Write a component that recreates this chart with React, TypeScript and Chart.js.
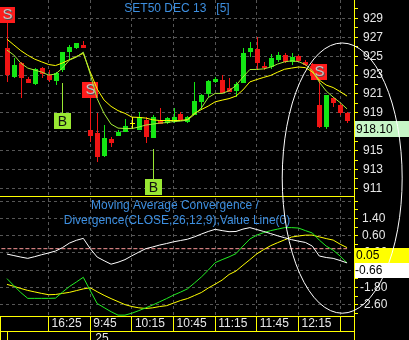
import React, { useEffect, useRef } from 'react';
import { Chart, registerables } from 'chart.js';

Chart.register(...registerables);

// ---- price candles (5-minute bars) ----
const opens = [925.83, 922.82, 924.24, 922.58, 922.05, 923.71, 923.0, 922.4, 923.53, 925.47, 925.83, 926.17, 917.18, 916.83, 914.46, 916.2, 916.55, 917.0, 917.9, 917.18, 918.24, 916.33, 918.16, 917.89, 918.03, 918.87, 918.06, 918.77, 920.17, 920.96, 922.23, 922.47, 921.59, 921.34, 922.12, 925.47, 925.72, 923.95, 923.88, 924.59, 925.12, 924.41, 925.01, 924.41, 923.95, 919.83, 917.53, 920.53, 919.83, 919.01];
const highs = [928.5, 924.77, 924.41, 922.82, 923.74, 923.88, 923.53, 923.35, 925.47, 926.17, 926.42, 926.63, 920.57, 918.95, 917.7, 916.41, 917.18, 918.34, 918.55, 919.12, 918.52, 918.77, 919.48, 918.59, 919.51, 919.12, 918.66, 922.29, 920.96, 922.47, 922.82, 923.0, 922.71, 922.29, 925.83, 926.52, 927.05, 924.41, 925.22, 925.47, 925.36, 925.3, 925.12, 924.59, 924.27, 922.47, 920.88, 920.7, 920.0, 919.12];
const lows = [922.29, 922.65, 920.53, 922.12, 921.94, 922.65, 922.29, 921.94, 923.35, 924.59, 925.72, 925.83, 915.91, 913.76, 914.35, 915.41, 916.5, 917.0, 917.28, 917.18, 915.77, 916.3, 917.81, 917.81, 917.92, 918.24, 917.92, 918.77, 919.3, 920.7, 922.12, 921.06, 921.23, 920.7, 922.12, 924.94, 923.53, 923.53, 923.6, 924.41, 924.24, 924.06, 924.41, 923.95, 922.68, 917.39, 917.29, 919.65, 918.77, 917.92];
const closes = [923.0, 924.06, 922.65, 922.12, 923.6, 923.11, 922.47, 923.18, 925.4, 926.0, 926.35, 925.83, 916.55, 914.35, 916.37, 915.77, 917.0, 917.6, 917.9, 918.59, 916.41, 918.52, 917.81, 918.42, 918.56, 918.24, 918.56, 920.28, 920.88, 922.37, 922.58, 921.13, 921.23, 922.05, 925.3, 925.83, 924.24, 923.71, 924.77, 925.12, 924.41, 924.94, 924.51, 924.06, 922.89, 917.53, 920.88, 920.04, 918.95, 918.1];

// ---- moving averages ----
const maSlow = [926.8, 926.19, 925.59, 925.1, 924.69, 924.4, 924.12, 924.01, 924.28, 924.63, 924.97, 925.3, 923.32, 921.52, 920.35, 919.69, 919.24, 918.95, 918.55, 918.52, 918.45, 918.27, 918.19, 918.19, 918.19, 918.19, 918.29, 918.94, 919.35, 919.72, 920.17, 920.35, 920.51, 920.78, 921.43, 922.28, 922.53, 922.76, 922.97, 923.31, 923.62, 923.74, 923.86, 923.79, 923.33, 922.47, 921.94, 921.68, 921.25, 920.78];
const maFast = [925.65, 925.12, 924.27, 923.74, 923.53, 923.32, 923.0, 923.11, 923.74, 924.59, 924.9, 925.43, 923.1, 920.5, 918.93, 917.81, 917.39, 917.34, 917.34, 917.5, 917.71, 917.81, 917.92, 917.97, 918.08, 918.13, 918.24, 918.82, 919.51, 920.62, 921.06, 921.06, 921.34, 921.9, 922.79, 923.59, 923.6, 923.66, 923.85, 924.17, 924.4, 924.51, 924.43, 924.11, 923.48, 922.26, 921.31, 920.67, 920.09, 919.42];

// ---- MACD panel ----
const macdWhite = [-0.25, -0.32, -0.39, -0.45, -0.37, -0.28, -0.2, -0.11, 0.05, 0.26, 0.39, 0.48, 0.0, -0.39, -0.56, -0.72, -0.63, -0.51, -0.33, -0.16, 0.0, 0.08, 0.17, 0.24, 0.32, 0.38, 0.44, 0.55, 0.68, 0.8, 0.9, 0.84, 0.79, 0.8, 0.91, 0.98, 0.89, 0.8, 0.7, 0.6, 0.51, 0.42, 0.35, 0.29, 0.12, -0.34, -0.41, -0.45, -0.55, -0.66];
const macdGreen = [-1.39, -1.72, -2.04, -2.31, -2.31, -2.31, -2.31, -2.3, -2.02, -1.76, -1.55, -1.33, -1.95, -2.55, -2.74, -2.93, -3.09, -3.09, -3.0, -2.88, -2.75, -2.62, -2.47, -2.32, -2.16, -2.02, -1.87, -1.6, -1.32, -1.0, -0.65, -0.51, -0.38, -0.23, 0.12, 0.45, 0.63, 0.75, 0.84, 0.91, 0.98, 0.98, 0.96, 0.84, 0.73, 0.4, 0.12, -0.07, -0.34, -0.66];
const macdYellow = [-1.66, -1.75, -1.85, -1.94, -2.01, -2.08, -2.14, -2.13, -2.08, -2.03, -1.95, -1.87, -1.82, -2.0, -2.17, -2.32, -2.46, -2.6, -2.69, -2.75, -2.78, -2.75, -2.69, -2.65, -2.53, -2.41, -2.32, -2.18, -2.04, -1.83, -1.65, -1.46, -1.2, -1.04, -0.77, -0.51, -0.24, -0.04, 0.14, 0.28, 0.41, 0.54, 0.59, 0.63, 0.63, 0.55, 0.47, 0.4, 0.21, 0.05];
const zeroLevel = 0;

// ---- signals ----
const sellIdx = [0, 12, 45];
const buyIdx = [8, 21];

// ---- axes ----
const timeTickIdx = [6, 12, 18, 24, 30, 36, 42, 48];
const timeLabels = ['16:25', '9:45', '10:15', '10:45', '11:15', '11:45', '12:15', ''];
const dateSepIdx = [0, 12];
const dateLabelIdx = 12;
const dateLabel = '25';
const priceTicks = [911, 912, 913, 914, 915, 916, 917, 918, 919, 920, 921, 922, 923, 924, 925, 926, 927, 928, 929, 930];
const priceLabelTicks = [911, 913, 915, 917, 919, 921, 923, 925, 927, 929];
const macdTicks = [-3.0, -2.6, -2.2, -1.8, -1.4, -1.0, -0.6, -0.2, 0.2, 0.6, 1.0, 1.4, 1.8, 2.2];
const macdGridTicks = [-2.6, -1.8, -1.0, -0.2, 0.6, 1.4, 2.2];
const macdLabelTicks = [-2.6, -1.8, -1.0, -0.2, 0.6, 1.4];

const mainTitle = 'SET50 DEC 13   [5]';
const macdTitle1 = 'Moving Average Convergence /';
const macdTitle2 = 'Divergence(CLOSE,26,12,9),Value Line(0)';

const FONT = "'Liberation Sans', Arial, sans-serif";
const YELLOW = '#ffff00';
const GRID = '#565656';
const UP = '#14e614';
const DOWN = '#f01414';
const DOJI = '#ffff00';
const LABEL = '#e8e8e8';
const TITLE = '#3d8fe0';
const CLEAR = 'rgba(0,0,0,0)';

const inList = (list: number[], v: number) => list.some((t) => Math.abs(t - v) < 1e-6);
const pts = (arr: number[]) => arr.map((v, i) => ({ x: i, y: v }));

const overlay = {
  id: 'overlay',
  beforeDatasetsDraw(chart: any) {
    const { ctx, scales } = chart;
    const x = scales.x;
    const y = scales.y;
    ctx.save();
    for (let i = 0; i < opens.length; i++) {
      const cx = Math.round(x.getPixelForValue(i));
      const o = y.getPixelForValue(opens[i]);
      const c = y.getPixelForValue(closes[i]);
      const h = Math.round(y.getPixelForValue(highs[i]));
      const l = Math.round(y.getPixelForValue(lows[i]));
      ctx.fillStyle = closes[i] > opens[i] ? UP : closes[i] < opens[i] ? DOWN : DOJI;
      ctx.fillRect(cx, h, 1, Math.max(1, l - h));
      const top = Math.round(Math.min(o, c));
      const bot = Math.round(Math.max(o, c));
      ctx.fillRect(cx - 2, top, 5, Math.max(1, bot - top));
    }
    ctx.textAlign = 'center';
    ctx.textBaseline = 'middle';
    sellIdx.forEach((i) => {
      const cx = Math.round(x.getPixelForValue(i));
      const top = Math.round(y.getPixelForValue(highs[i]));
      ctx.fillStyle = '#ff1c1c';
      ctx.fillRect(cx - 8, top - 16, 16, 16);
      ctx.font = `15px ${FONT}`;
      ctx.fillStyle = '#505050';
      ctx.fillText('S', cx + 1.5, top - 7);
      ctx.fillStyle = '#c4c4c4';
      ctx.fillText('S', cx + 0.5, top - 8);
    });
    buyIdx.forEach((i) => {
      const cx = Math.round(x.getPixelForValue(i));
      const low = Math.round(y.getPixelForValue(lows[i]));
      ctx.fillStyle = '#99e833';
      ctx.fillRect(cx, low + 11, 1, 30);
      ctx.fillRect(cx - 8, low + 41, 17, 16);
      ctx.font = `14px ${FONT}`;
      ctx.fillStyle = '#111111';
      ctx.fillText('B', cx + 0.5, low + 50);
    });
    ctx.restore();
  },
  afterDraw(chart: any) {
    const { ctx, chartArea: ca, scales } = chart;
    const x = scales.x;
    const y = scales.y;
    const y2 = scales.y2;
    const H = chart.height;
    const W = chart.width;
    const axisX = Math.round(y.left);
    const bottom = Math.round(ca.bottom);
    ctx.save();
    ctx.fillStyle = YELLOW;
    ctx.fillRect(ca.left, Math.round(y.bottom), axisX - ca.left, 1);
    ctx.fillRect(axisX, bottom, 1, H - bottom);
    const rowY = bottom + 15;
    ctx.fillRect(ca.left, rowY, axisX - ca.left, 1);
    ctx.fillRect(ca.left, bottom, 1, H - bottom);
    dateSepIdx.forEach((i) => ctx.fillRect(Math.round(x.getPixelForValue(i)), rowY, 1, H - rowY));
    ctx.fillStyle = LABEL;
    ctx.font = `12px ${FONT}`;
    ctx.textAlign = 'left';
    ctx.textBaseline = 'top';
    ctx.fillText(dateLabel, x.getPixelForValue(dateLabelIdx) + 5, rowY + 2);

    // titles
    const cxm = (ca.left + ca.right) / 2;
    ctx.fillStyle = TITLE;
    ctx.textAlign = 'center';
    ctx.textBaseline = 'alphabetic';
    ctx.fillText(mainTitle, cxm, 12);
    ctx.fillText(macdTitle1, cxm - 2, y2.top + 13);
    ctx.fillText(macdTitle2, cxm, y2.top + 28);

    // last value boxes
    const last = closes.length - 1;
    const boxes = [
      { s: y, v: closes[last], bg: '#c6f5c6', h: 16, dx: 2 },
      { s: y2, v: macdYellow[last], bg: YELLOW, h: 15, dx: 2 },
      { s: y2, v: macdWhite[last], bg: '#ffffff', h: 15, dx: 1 },
    ];
    ctx.textAlign = 'left';
    ctx.textBaseline = 'middle';
    boxes.forEach((b) => {
      const top = Math.round(b.s.getPixelForValue(b.v));
      ctx.fillStyle = b.bg;
      ctx.fillRect(axisX + 1, top, W - axisX - 1, b.h);
      ctx.fillStyle = '#000000';
      ctx.fillText(b.v.toFixed(2), axisX + b.dx, top + b.h / 2 + 0.5);
    });

    // hand-drawn annotation ellipse
    const ecx = x.getPixelForValue(48.3);
    const erx = x.getPixelForValue(48.3 + 8.64) - ecx;
    const etop = y.getPixelForValue(926.4);
    const ebot = y2.getPixelForValue(-3.0);
    ctx.strokeStyle = '#ffffff';
    ctx.lineWidth = 1;
    ctx.beginPath();
    ctx.ellipse(ecx, (etop + ebot) / 2, erx, (ebot - etop) / 2, 0, 0, Math.PI * 2);
    ctx.stroke();
    ctx.restore();
  },
};

export default function App() {
  const ref = useRef<HTMLCanvasElement>(null);
  useEffect(() => {
    if (!ref.current) return;
    Chart.defaults.font.family = FONT;
    Chart.defaults.font.size = 12;
    const line = (data: number[], color: string, axis: string, extra: any = {}) => ({
      data: pts(data),
      borderColor: color,
      borderWidth: 1,
      pointRadius: 0,
      tension: 0,
      fill: false,
      yAxisID: axis,
      xAxisID: 'x',
      ...extra,
    });
    const chart = new Chart(ref.current, {
      type: 'line',
      data: {
        datasets: [
          line(maFast, '#a6ec38', 'y'),
          line(maSlow, '#ffff00', 'y'),
          line(macdWhite, '#ffffff', 'y2'),
          line(macdGreen, '#22ee22', 'y2'),
          line(macdYellow, '#ffff00', 'y2'),
          { ...line([zeroLevel, zeroLevel], '#ff9a9a', 'y2', { borderDash: [4, 2] }), data: [{ x: -0.8, y: zeroLevel }, { x: 49, y: zeroLevel }] },
        ] as any,
      },
      options: {
        responsive: false,
        animation: false,
        devicePixelRatio: 1,
        events: [],
        layout: { padding: 0, autoPadding: false } as any,
        plugins: { legend: { display: false }, tooltip: { enabled: false }, title: { display: false } },
        scales: {
          x: {
            type: 'linear',
            position: 'bottom',
            min: -1,
            max: 50,
            afterBuildTicks: (s: any) => { s.ticks = timeTickIdx.map((v) => ({ value: v })); },
            afterFit: (s: any) => { s.height = 24; s.paddingLeft = 0; s.paddingRight = 0; },
            ticks: {
              autoSkip: false,
              maxRotation: 0,
              minRotation: 0,
              align: 'start',
              labelOffset: 3,
              padding: -15,
              color: LABEL,
              font: { size: 12, family: FONT },
              callback: (v: any) => { const k = timeTickIdx.indexOf(Number(v)); return k >= 0 ? timeLabels[k] : ''; },
            },
            grid: { color: GRID, tickColor: YELLOW, tickLength: 15, tickBorderDash: [], drawTicks: true } as any,
            border: { display: true, color: YELLOW, dash: [3, 3] },
          },
          y: {
            type: 'linear',
            position: 'right',
            stack: 'panels',
            stackWeight: 196,
            min: 910.2,
            max: 930.95,
            afterBuildTicks: (s: any) => { s.ticks = priceTicks.map((v) => ({ value: v })); },
            afterFit: (s: any) => { s.width = 55; s.paddingTop = 0; s.paddingBottom = 0; },
            ticks: {
              autoSkip: false,
              padding: 5,
              color: LABEL,
              font: { size: 12, family: FONT },
              callback: (v: any) => (inList(priceLabelTicks, Number(v)) ? String(v) : ''),
            },
            grid: {
              color: (c: any) => (c.tick && inList(priceLabelTicks, c.tick.value) ? GRID : CLEAR),
              tickColor: YELLOW,
              tickLength: 4,
              tickBorderDash: [],
            } as any,
            border: { display: true, color: YELLOW, dash: [3, 3] },
          },
          y2: {
            type: 'linear',
            position: 'right',
            stack: 'panels',
            stackWeight: 120,
            min: -3.13,
            max: 2.45,
            afterBuildTicks: (s: any) => { s.ticks = macdTicks.map((v) => ({ value: v })); },
            afterFit: (s: any) => { s.width = 55; s.paddingTop = 0; s.paddingBottom = 0; },
            ticks: {
              autoSkip: false,
              padding: 2,
              crossAlign: 'center',
              color: LABEL,
              font: { size: 12, family: FONT },
              callback: (v: any) => (inList(macdLabelTicks, Number(v)) ? Number(v).toFixed(2) : ''),
            },
            grid: {
              color: (c: any) => (c.tick && inList(macdGridTicks, c.tick.value) ? GRID : CLEAR),
              tickColor: YELLOW,
              tickLength: 4,
              tickBorderDash: [],
            } as any,
            border: { display: true, color: YELLOW, dash: [3, 3] },
          },
        } as any,
      },
      plugins: [overlay],
    });
    return () => chart.destroy();
  }, []);
  return (
    <div style={{ position: 'fixed', left: 0, top: 0, width: 409, height: 340, background: '#000', overflow: 'hidden' }}>
      <canvas ref={ref} width={409} height={340} style={{ display: 'block' }} />
    </div>
  );
}
